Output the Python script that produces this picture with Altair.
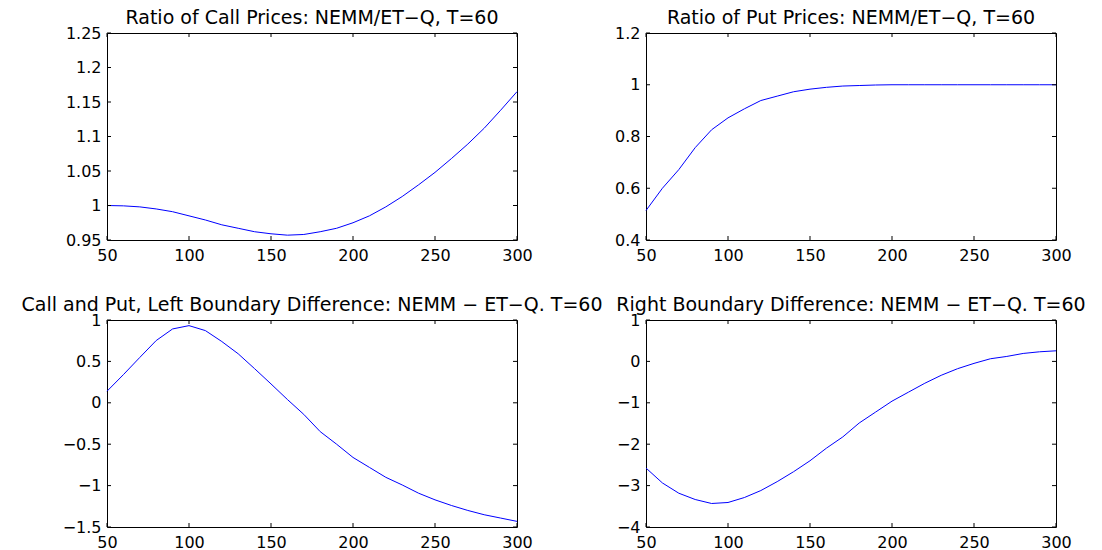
import altair as alt
import pandas as pd

strike = [50, 60, 70, 80, 90, 100, 110, 120, 130, 140, 150, 160, 170, 180, 190,
          200, 210, 220, 230, 240, 250, 260, 270, 280, 290, 300]

call_ratio = [1.000, 0.9995, 0.998, 0.995, 0.991, 0.985, 0.979, 0.972, 0.967, 0.962,
              0.959, 0.957, 0.958, 0.962, 0.967, 0.975, 0.985, 0.998, 1.013, 1.030,
              1.048, 1.068, 1.089, 1.112, 1.138, 1.165]

put_ratio = [0.514, 0.600, 0.672, 0.757, 0.826, 0.872, 0.907, 0.939, 0.956, 0.973,
             0.983, 0.990, 0.995, 0.997, 0.999, 1.000, 1.000, 1.000, 1.000, 1.000,
             1.000, 1.000, 1.000, 1.000, 1.000, 1.000]

left_diff = [0.14, 0.34, 0.548, 0.752, 0.892, 0.932, 0.872, 0.74, 0.592, 0.412,
             0.228, 0.04, -0.14, -0.348, -0.50, -0.66, -0.78, -0.90, -0.992, -1.092,
             -1.172, -1.24, -1.30, -1.352, -1.392, -1.432]

right_diff = [-2.576, -2.936, -3.184, -3.336, -3.432, -3.408, -3.288, -3.12, -2.904, -2.664,
              -2.40, -2.096, -1.824, -1.488, -1.224, -0.96, -0.744, -0.528, -0.336, -0.176,
              -0.048, 0.064, 0.12, 0.192, 0.232, 0.256]

x_ticks = [50, 100, 150, 200, 250, 300]
call_yticks = [0.95, 1.0, 1.05, 1.1, 1.15, 1.2, 1.25]
put_yticks = [0.4, 0.6, 0.8, 1.0, 1.2]
left_yticks = [-1.5, -1.0, -0.5, 0.0, 0.5, 1.0]
right_yticks = [-4, -3, -2, -1, 0, 1]

titles = [
    "Ratio of Call Prices: NEMM/ET\u2212Q, T=60",
    "Ratio of Put Prices: NEMM/ET\u2212Q, T=60",
    "Call and Put, Left Boundary Difference: NEMM \u2212 ET\u2212Q. T=60",
    "Right Boundary Difference: NEMM \u2212 ET\u2212Q. T=60",
]

W, H = 410, 207
FONT = "DejaVu Sans"
TL = 4


def panel(title, values, yticks):
    df = pd.DataFrame({"x": strike, "y": values})
    xs = alt.Scale(domain=[50, 300], nice=False, zero=False)
    ys = alt.Scale(domain=[min(yticks), max(yticks)], nice=False, zero=False)
    xaxis = alt.Axis(values=x_ticks, tickSize=0, domain=False, grid=False,
                     labelFont=FONT, labelFontSize=16, labelColor="black",
                     labelPadding=7, title=None, labelFlush=False,
                     labelOverlap=False, format=".2~f")
    yaxis = alt.Axis(values=yticks, tickSize=0, domain=False, grid=False,
                     labelFont=FONT, labelFontSize=16, labelColor="black",
                     labelPadding=6, title=None, labelFlush=False,
                     labelOverlap=False, format=".2~f")
    line = alt.Chart(df).mark_line(color="#0000ff", strokeWidth=1).encode(
        x=alt.X("x:Q", scale=xs, axis=xaxis),
        y=alt.Y("y:Q", scale=ys, axis=yaxis),
    )
    xt = pd.DataFrame({"x": x_ticks})
    yt = pd.DataFrame({"y": yticks})
    xb = alt.Chart(xt).mark_rule(color="black", strokeWidth=1).encode(
        x=alt.X("x:Q", scale=xs, axis=xaxis), y=alt.value(H), y2=alt.value(H - TL))
    xtop = alt.Chart(xt).mark_rule(color="black", strokeWidth=1).encode(
        x=alt.X("x:Q", scale=xs, axis=xaxis), y=alt.value(0), y2=alt.value(TL))
    yl = alt.Chart(yt).mark_rule(color="black", strokeWidth=1).encode(
        y=alt.Y("y:Q", scale=ys, axis=yaxis), x=alt.value(0), x2=alt.value(TL))
    yr = alt.Chart(yt).mark_rule(color="black", strokeWidth=1).encode(
        y=alt.Y("y:Q", scale=ys, axis=yaxis), x=alt.value(W), x2=alt.value(W - TL))
    ttl = alt.Chart(pd.DataFrame({"t": [title]})).mark_text(
        font=FONT, fontSize=19, color="black", align="center", baseline="alphabetic"
    ).encode(text="t:N", x=alt.value(W / 2), y=alt.value(-9))
    return alt.layer(line, xb, xtop, yl, yr, ttl).properties(width=W, height=H)


p1 = panel(titles[0], call_ratio, call_yticks)
p2 = panel(titles[1], put_ratio, put_yticks)
p3 = panel(titles[2], left_diff, left_yticks)
p4 = panel(titles[3], right_diff, right_yticks)

chart = alt.concat(p1, p2, p3, p4, columns=2).properties(
    spacing={"row": 80, "column": 129},
    bounds="flush",
    padding={"left": 13, "top": 0, "right": 5, "bottom": 0},
    background="white",
).configure_view(stroke="black", strokeWidth=1)

chart.save("out.html", embed_options={"renderer": "svg", "actions": False})
